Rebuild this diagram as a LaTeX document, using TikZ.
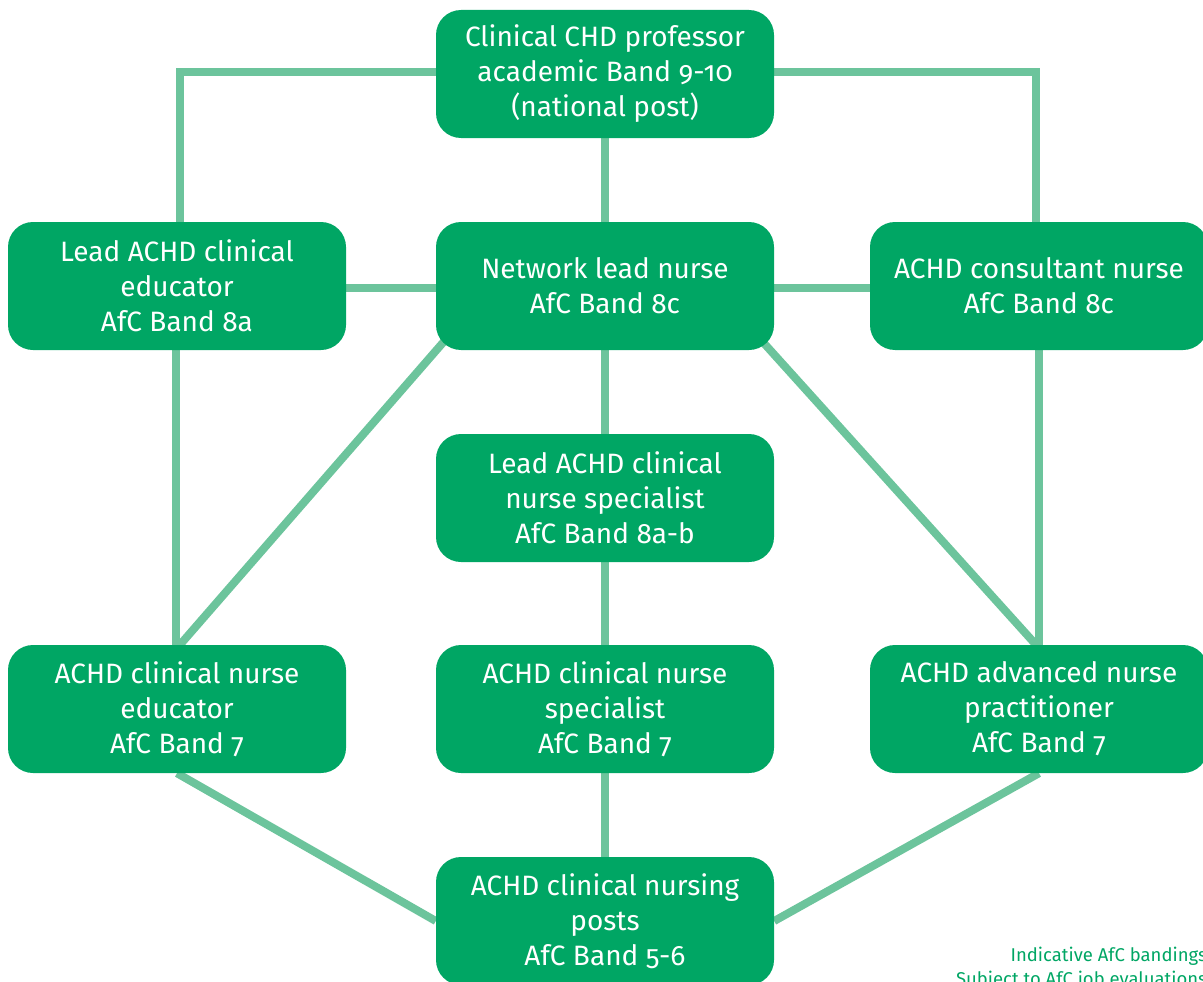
\documentclass[tikz,border=0pt]{standalone}
\usepackage{fontspec}
\setmainfont{Fira Sans}[Numbers=OldStyle]
\usetikzlibrary{backgrounds,calc}
\definecolor{boxgreen}{HTML}{00A664}
\definecolor{linegreen}{HTML}{6CC49C}
\tikzset{
  rolebox/.style={draw=none, fill=boxgreen, rounded corners=25pt, minimum width=338pt, minimum height=128pt,
    text=white, align=center, font=\fontsize{28}{35}\selectfont, inner sep=0pt},
  link/.style={draw=linegreen, line width=8pt}
}
\begin{document}
\begin{tikzpicture}[x=1pt,y=1pt]
\useasboundingbox (0,0) rectangle (1203,-982);
\node[rolebox] (top) at (605,-74) {Clinical CHD professor\\academic Band 9-10\\(national post)};
\node[rolebox] (L2) at (177,-286) {Lead ACHD clinical\\educator\\AfC Band 8a};
\node[rolebox] (M2) at (605,-286) {Network lead nurse\\AfC Band 8c};
\node[rolebox] (R2) at (1039,-286) {ACHD consultant nurse\\AfC Band 8c};
\node[rolebox] (M3) at (605,-498) {Lead ACHD clinical\\nurse specialist\\AfC Band 8a-b};
\node[rolebox] (L4) at (177,-709) {ACHD clinical nurse\\educator\\AfC Band 7};
\node[rolebox] (M4) at (605,-709) {ACHD clinical nurse\\specialist\\AfC Band 7};
\node[rolebox] (R4) at (1039,-709) {ACHD advanced nurse\\practitioner\\AfC Band 7};
\node[rolebox] (B) at (605,-921) {ACHD clinical nursing\\posts\\AfC Band 5-6};
\node[anchor=base east, align=right, text=boxgreen, font=\fontsize{18.5}{24}\selectfont, inner sep=0pt] (note) at (1207,-985) {Indicative AfC bandings\\Subject to AfC job evaluations};
\begin{scope}[on background layer]
\draw[link] ([yshift=2pt]top.west) -| ([xshift=3pt]L2.north);
\draw[link] ([yshift=2pt]top.east) -| ([xshift=-3pt]R2.north);
\draw[link] (top.south) -- (M2.north);
\draw[link] ([yshift=-2pt]L2.east) -- ([yshift=-2pt]M2.west);
\draw[link] ([yshift=-2pt]M2.east) -- ([yshift=-2pt]R2.west);
\draw[link] ([xshift=-1pt]L2.south) -- ([xshift=-1pt]L4.north);
\draw[link] ([xshift=3pt]L4.north) -- ($(M2.south west)+(18,20)$);
\draw[link] (M2.south) -- (M3.north);
\draw[link] ([xshift=-3pt]R4.north) -- ($(M2.south east)+(-22,20)$);
\draw[link] (R2.south) -- (R4.north);
\draw[link] (M3.south) -- (M4.north);
\draw[link] (M4.south) -- (B.north);
\draw[link] (L4.south) -- (B.west);
\draw[link] (R4.south) -- (B.east);
\end{scope}
\end{tikzpicture}
\end{document}
